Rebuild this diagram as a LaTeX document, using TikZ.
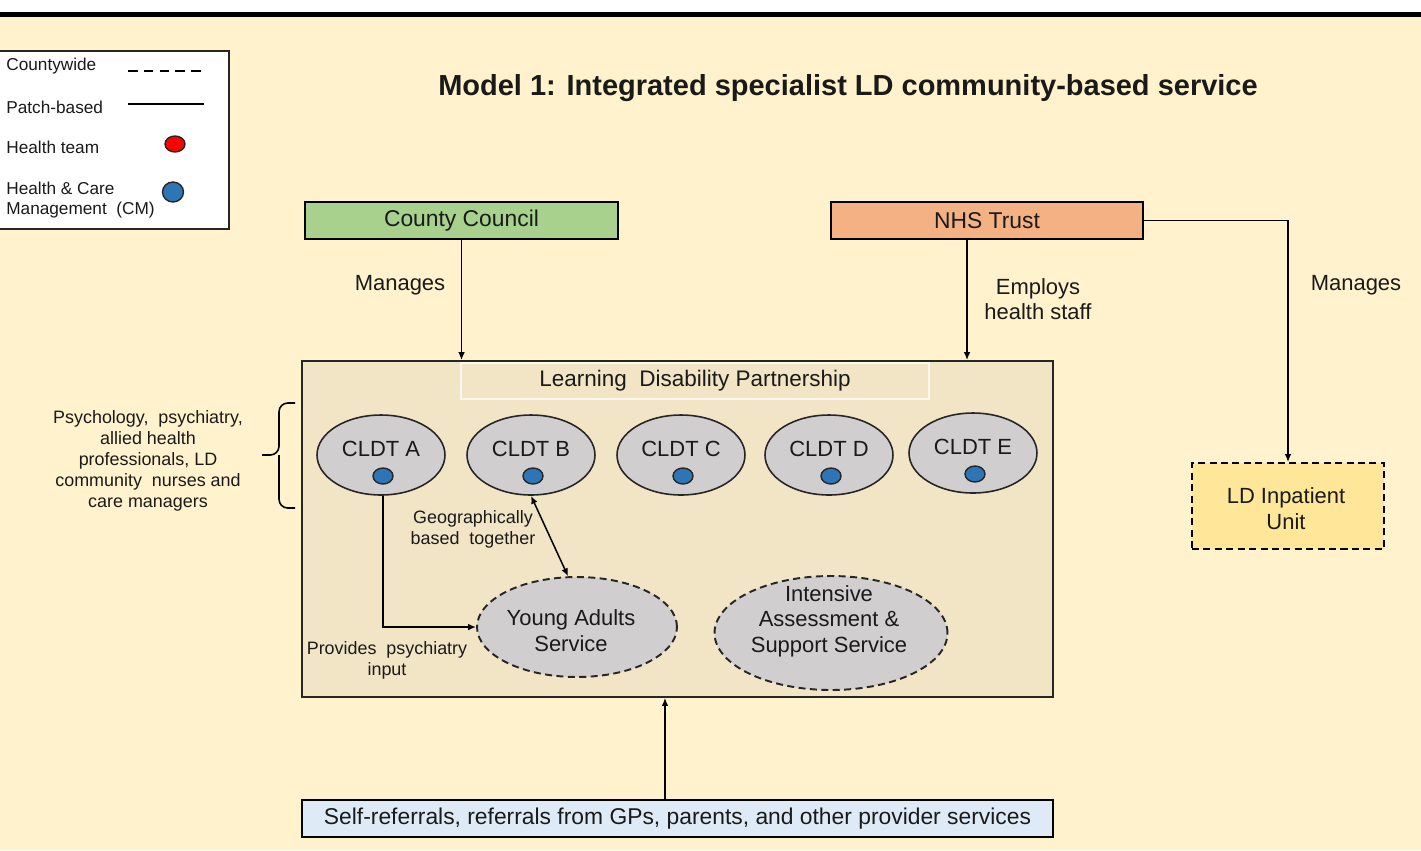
\documentclass[tikz,border=0pt]{standalone}
\usepackage{fontspec}
\setmainfont{Liberation Sans}
\usetikzlibrary{arrows.meta,shapes.geometric,calc}
\definecolor{cream}{HTML}{FFF2CC}
\definecolor{ldp}{HTML}{F2E5C6}
\definecolor{ccgreen}{HTML}{A9D18E}
\definecolor{nhsorange}{HTML}{F4B183}
\definecolor{inpat}{HTML}{FFE699}
\definecolor{refblue}{HTML}{DEEBF7}
\definecolor{cldtgray}{HTML}{D0CECE}
\definecolor{dotblue}{HTML}{2E75B6}
\definecolor{dotred}{HTML}{FF0000}
\definecolor{txt}{HTML}{1A1A1A}
\tikzset{
  box/.style={draw=black, line width=1.1pt, inner sep=0pt, font=\fontsize{13}{15}\selectfont, text=txt},
  cldt/.style={ellipse, draw=black!85, line width=0.9pt, fill=cldtgray, minimum width=2.56cm, minimum height=1.6cm, inner sep=0pt},
  svc/.style={ellipse, draw=black!85, line width=1.1pt, dash pattern=on 4pt off 2.5pt, fill=cldtgray, inner sep=0pt},
  dot/.style={ellipse, draw=black!85, line width=0.8pt, minimum width=0.4cm, minimum height=0.32cm, inner sep=0pt},
  lbl/.style={font=\fontsize{12.5}{14.5}\selectfont, text=txt, align=center, inner sep=0pt},
  small/.style={font=\fontsize{10.2}{12}\selectfont, text=txt, align=center, inner sep=0pt},
  leg/.style={font=\fontsize{9.8}{11.9}\selectfont, text=txt, align=left, inner sep=0pt, anchor=west},
  arr/.style={line width=0.85pt, -{Latex[length=4.5pt,width=3.8pt]}},
  arrboth/.style={line width=0.85pt, {Latex[length=4.5pt,width=3.8pt]}-{Latex[length=4.5pt,width=3.8pt]}},
  ln/.style={line width=0.85pt}
}
\begin{document}
\begin{tikzpicture}[x=0.02cm,y=-0.02cm]
\useasboundingbox (0,0) rectangle (1421,850);
% background
\fill[white] (0,0) rectangle (1421,12);
\fill[black] (0,12) rectangle (1421,17);
\fill[cream] (0,17) rectangle (1421,850);

% title
\node[font=\bfseries\fontsize{16.5}{19}\selectfont, text=txt, inner sep=0pt] (title) at (848,88) {Model 1: Integrated specialist LD community-based service};

% legend
\node[draw=black!85, line width=1pt, fill=white, minimum width=4.64cm, minimum height=3.56cm, inner sep=0pt] (legend) at (113,140) {};
\node[leg] (lcw) at (6,66) {Countywide};
\node[leg] (lpb) at (6,107) {Patch-based};
\node[leg] (lht) at (6,147) {Health team};
\node[leg] (lhc) at (6,200) {Health \& Care\\Management\ \ (CM)};
\coordinate (dashA) at (128,71);
\coordinate (dashB) at (204,71);
\draw[line width=0.9pt, dash pattern=on 5.5pt off 3.5pt] (dashA) -- (dashB);
\coordinate (solA) at (128,104);
\coordinate (solB) at (204,104);
\draw[line width=0.9pt] (solA) -- (solB);
\node[dot, fill=dotred] (reddot) at (175,144) {};
\node[dot, fill=dotblue, minimum width=0.42cm, minimum height=0.4cm] (legblue) at (173,192) {};

% top boxes
\node[box, fill=ccgreen, minimum width=6.26cm, minimum height=0.74cm] (cc) at (461.5,220.5) {County Council};
\node[box, fill=nhsorange, minimum width=6.24cm, minimum height=0.74cm] (nhs) at (987,220.5) {NHS Trust};

% LDP box
\node[draw=black!85, line width=1.1pt, fill=ldp, minimum width=15.02cm, minimum height=6.72cm, inner sep=0pt] (ldp) at (677.5,529) {};
\node[draw=white!75!ldp, line width=0.8pt, fill=ldp, minimum width=9.36cm, minimum height=0.72cm, inner sep=0pt, font=\fontsize{12.8}{15}\selectfont, text=txt] (ldplbl) at (695,381) {Learning\ \ Disability Partnership};

% inpatient
\node[box, fill=inpat, dash pattern=on 4pt off 2.5pt, minimum width=3.84cm, minimum height=1.72cm] (inp) at (1288,506) {};
\node[lbl] (inptxt) at (1286,508.5) {LD Inpatient\\Unit};

% referral
\node[box, fill=refblue, minimum width=15.02cm, minimum height=0.74cm] (ref) at (677.5,818.5) {Self-referrals, referrals from GPs, parents, and other provider services};

% CLDTs
\foreach \n/\x/\y in {A/381/455, B/531/455, C/681/455, D/829/455, E/973/453}{
  \node[cldt] (cldt\n) at (\x,\y) {};
  \node[lbl] (cldt\n txt) at ($(cldt\n)+(0,-6)$) {CLDT \n};
  \node[dot, fill=dotblue] (cldt\n dot) at ($(cldt\n)+(2,21)$) {};
}

% services
\node[svc, minimum width=4.0cm, minimum height=2.0cm] (ya) at (577,627) {};
\node[lbl, font=\fontsize{12.5}{14.8}\selectfont] (yatxt) at (571,631) {Young Adults\\Service};
\node[svc, minimum width=4.66cm, minimum height=2.28cm] (ias) at (831,633) {};
\node[lbl, font=\fontsize{12.5}{14.5}\selectfont] (iastxt) at (829,621) {Intensive\\Assessment \&\\Support Service};

% side text and brace
\node[small] (side) at (148,461) {Psychology,\ \ psychiatry,\\allied health\\professionals,\ LD\\community\ \ nurses and\\care\ managers};
\draw[line width=0.9pt, rounded corners=5pt] (295,403) -- (279,403) -- (279,455) -- (262,455);
\draw[line width=0.9pt, rounded corners=5pt] (295,508) -- (279,508) -- (279,455);

% connectors
\draw[arr] (cc.south) -- (cc.south |- ldp.north);
\node[lbl] (mng1) at (400,285) {Manages};
\draw[arr] ([xshift=-0.4cm]nhs.south) -- ([xshift=-0.4cm]nhs.south |- ldp.north);
\node[lbl, font=\fontsize{12.5}{14}\selectfont] (emp) at (1038,299) {Employs\\health staff};
\draw[arr] (nhs.east) -| (inp.north);
\node[lbl] (mng2) at (1356,285) {Manages};
\draw[arr] ([xshift=-0.25cm]ref.north) -- ([xshift=-0.25cm]ref.north |- ldp.south);

\draw[arr] ([xshift=0.04cm]cldtA.south) |- (ya.west);
\node[small] (prov) at (387,660) {Provides\ \ psychiatry\\input};
\draw[arrboth] (cldtB.south) -- (ya.100);
\node[small] (geo) at (473,529) {Geographically\\based\ \ together};
\end{tikzpicture}
\end{document}
